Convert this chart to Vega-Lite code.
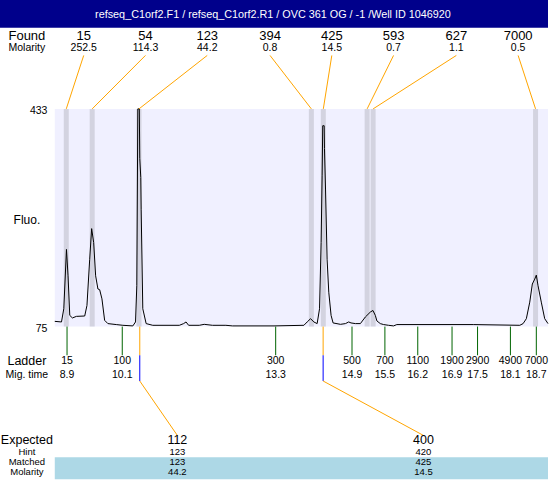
{
"$schema":"https://vega.github.io/schema/vega-lite/v6.json",
"width":550,"height":480,
"autosize":{"type":"fit","contains":"padding"},
"padding":0,
"background":"white",
"config":{"view":{"stroke":null},"font":"Liberation Sans","axis":{"disable":true}},
"datasets":{
"peaks":[
{"size":"15","mol":"252.5","t":8.884,"tl":9.248},
{"size":"54","mol":"114.3","t":9.425,"tl":10.538},
{"size":"123","mol":"44.2","t":10.403,"tl":11.828},
{"size":"394","mol":"0.8","t":14.002,"tl":13.139},
{"size":"425","mol":"14.5","t":14.252,"tl":14.429},
{"size":"593","mol":"0.7","t":15.167,"tl":15.719},
{"size":"627","mol":"1.1","t":15.292,"tl":17.030},
{"size":"7000","mol":"0.5","t":18.684,"tl":18.320}
],
"ladder":[
{"bp":"15","mt":"8.9","t":8.900},
{"bp":"100","mt":"10.1","t":10.053},
{"bp":"300","mt":"13.3","t":13.257},
{"bp":"500","mt":"14.9","t":14.851},
{"bp":"700","mt":"15.5","t":15.538},
{"bp":"1100","mt":"16.2","t":16.224},
{"bp":"1900","mt":"16.9","t":16.940},
{"bp":"2900","mt":"17.5","t":17.473},
{"bp":"4900","mt":"18.1","t":18.159},
{"bp":"7000","mt":"18.7","t":18.700}
],
"expected":[
{"exp":"112","hint":"123","matched":"123","mol":"44.2","t":10.419,"tl":11.204},
{"exp":"400","hint":"420","matched":"425","mol":"14.5","t":14.248,"tl":16.343}
],
"trace":[
{"t":8.644,"f":83.6},{"t":8.784,"f":82.6},{"t":8.832,"f":104.3},{"t":8.888,"f":201.9},{"t":8.921,"f":158.5},
{"t":8.957,"f":93.4},{"t":9.013,"f":89.2},{"t":9.096,"f":91.8},{"t":9.269,"f":92.4},{"t":9.316,"f":109.7},
{"t":9.373,"f":185.7},{"t":9.414,"f":236.1},{"t":9.456,"f":213.3},{"t":9.497,"f":158.5},{"t":9.545,"f":136.8},
{"t":9.581,"f":135.7},{"t":9.629,"f":120.6},{"t":9.685,"f":85.3},{"t":9.753,"f":79.9},{"t":9.928,"f":78.3},
{"t":10.066,"f":77.1},{"t":10.274,"f":76.1},{"t":10.330,"f":82.6},{"t":10.357,"f":142.2},{"t":10.378,"f":433},
{"t":10.409,"f":433},{"t":10.419,"f":351.6},{"t":10.440,"f":320},{"t":10.448,"f":267},{"t":10.482,"f":104.3},
{"t":10.552,"f":79.9},{"t":10.690,"f":77.1},{"t":11.245,"f":77.1},{"t":11.335,"f":79.9},{"t":11.385,"f":82.6},
{"t":11.439,"f":77.1},{"t":11.661,"f":77.1},{"t":11.765,"f":78.7},{"t":11.938,"f":77.1},{"t":12.217,"f":77.1},
{"t":12.354,"f":76.1},{"t":13.222,"f":76.1},{"t":13.846,"f":77.1},{"t":13.915,"f":82.6},{"t":13.986,"f":88.0},
{"t":14.054,"f":82.6},{"t":14.123,"f":79.9},{"t":14.173,"f":104.3},{"t":14.206,"f":213.3},{"t":14.227,"f":324.0},
{"t":14.240,"f":405.3},{"t":14.270,"f":405.3},{"t":14.276,"f":367.9},{"t":14.298,"f":301.2},{"t":14.331,"f":185.7},
{"t":14.366,"f":131.5},{"t":14.414,"f":93.4},{"t":14.456,"f":81.0},{"t":14.610,"f":78.7},{"t":14.714,"f":79.9},
{"t":14.782,"f":82.6},{"t":14.830,"f":81.0},{"t":14.922,"f":79.9},{"t":15.026,"f":79.9},{"t":15.130,"f":90.8},
{"t":15.234,"f":98.9},{"t":15.288,"f":101.5},{"t":15.338,"f":93.4},{"t":15.371,"f":84.3},{"t":15.442,"f":79.9},
{"t":15.511,"f":78.3},{"t":15.615,"f":77.1},{"t":15.719,"f":76.1},{"t":15.787,"f":78.3},{"t":17.383,"f":78.3},
{"t":18.355,"f":77.1},{"t":18.424,"f":79.9},{"t":18.492,"f":88.0},{"t":18.563,"f":115.2},{"t":18.617,"f":145.0},
{"t":18.667,"f":153.1},{"t":18.700,"f":159.6},{"t":18.736,"f":142.2},{"t":18.804,"f":115.2},{"t":18.875,"f":88.0},
{"t":18.944,"f":79.9}
]
},
"layer":[
{"data":{"values":[{"t":7.5,"t2":18.944}]},"mark":{"type":"rect","color":"#00008b"},
 "encoding":{"x":{"field":"t","type":"quantitative","scale":{"domain":[7.5,18.944],"nice":false,"zero":false}},"x2":{"field":"t2"},
  "y":{"datum":566.44,"scale":{"domain":[-172.35,608.75],"nice":false,"zero":false}},"y2":{"datum":612}}},
{"data":{"values":[{"title":"refseq_C1orf2.F1 / refseq_C1orf2.R1 / OVC 361 OG / -1 /Well ID 1046920"}]},
 "mark":{"type":"text","color":"white","fontSize":10.8,"baseline":"middle"},
 "encoding":{"x":{"datum":13.2,"scale":{"domain":[7.5,18.944],"nice":false,"zero":false}},"y":{"datum":587.6,"scale":{"domain":[-172.35,608.75],"nice":false,"zero":false}},"text":{"field":"title"}}},
{"data":{"values":[{"t":8.644,"t2":18.944}]},"mark":{"type":"rect","color":"#f0f0ff"},
 "encoding":{"x":{"field":"t","type":"quantitative","scale":{"domain":[7.5,18.944],"nice":false,"zero":false}},"x2":{"field":"t2"},
  "y":{"datum":75,"scale":{"domain":[-172.35,608.75],"nice":false,"zero":false}},"y2":{"datum":433}}},
{"data":{"name":"peaks"},"mark":{"type":"rule","color":"#d3d3e0","strokeWidth":5},
 "encoding":{"x":{"field":"t","type":"quantitative","scale":{"domain":[7.5,18.944],"nice":false,"zero":false}},
  "y":{"datum":75,"scale":{"domain":[-172.35,608.75],"nice":false,"zero":false}},"y2":{"datum":433}}},
{"data":{"name":"trace"},"mark":{"type":"line","color":"black","strokeWidth":1},
 "encoding":{"x":{"field":"t","type":"quantitative","scale":{"domain":[7.5,18.944],"nice":false,"zero":false}},
  "y":{"field":"f","type":"quantitative","scale":{"domain":[-172.35,608.75],"nice":false,"zero":false}}}},
{"data":{"name":"peaks"},"mark":{"type":"rule","color":"orange","strokeWidth":1},
 "encoding":{"x":{"field":"tl","type":"quantitative","scale":{"domain":[7.5,18.944],"nice":false,"zero":false}},"x2":{"field":"t"},
  "y":{"datum":520.9,"scale":{"domain":[-172.35,608.75],"nice":false,"zero":false}},"y2":{"datum":433}}},
{"data":{"name":"peaks"},"mark":{"type":"text","fontSize":13,"baseline":"middle","color":"black"},
 "encoding":{"x":{"field":"tl","type":"quantitative","scale":{"domain":[7.5,18.944],"nice":false,"zero":false}},
  "y":{"datum":553.4,"scale":{"domain":[-172.35,608.75],"nice":false,"zero":false}},"text":{"field":"size"}}},
{"data":{"name":"peaks"},"mark":{"type":"text","fontSize":10.5,"baseline":"middle","color":"black"},
 "encoding":{"x":{"field":"tl","type":"quantitative","scale":{"domain":[7.5,18.944],"nice":false,"zero":false}},
  "y":{"datum":532.3,"scale":{"domain":[-172.35,608.75],"nice":false,"zero":false}},"text":{"field":"mol"}}},
{"data":{"values":[{"f":433},{"f":75}]},"mark":{"type":"text","fontSize":10.5,"baseline":"middle","align":"right","dy":2,"color":"black"},
 "encoding":{"x":{"datum":8.49,"scale":{"domain":[7.5,18.944],"nice":false,"zero":false}},
  "y":{"field":"f","type":"quantitative","scale":{"domain":[-172.35,608.75],"nice":false,"zero":false}},"text":{"field":"f"}}},
{"data":{"name":"ladder"},"mark":{"type":"rule","color":"#006400","strokeWidth":1},
 "encoding":{"x":{"field":"t","type":"quantitative","scale":{"domain":[7.5,18.944],"nice":false,"zero":false}},
  "y":{"datum":75,"scale":{"domain":[-172.35,608.75],"nice":false,"zero":false}},"y2":{"datum":27.81}}},
{"data":{"name":"ladder"},"mark":{"type":"text","fontSize":10.5,"baseline":"middle","color":"black"},
 "encoding":{"x":{"field":"t","type":"quantitative","scale":{"domain":[7.5,18.944],"nice":false,"zero":false}},
  "y":{"datum":18.05,"scale":{"domain":[-172.35,608.75],"nice":false,"zero":false}},"text":{"field":"bp"}}},
{"data":{"name":"ladder"},"mark":{"type":"text","fontSize":10.5,"baseline":"middle","color":"black"},
 "encoding":{"x":{"field":"t","type":"quantitative","scale":{"domain":[7.5,18.944],"nice":false,"zero":false}},
  "y":{"datum":-4.74,"scale":{"domain":[-172.35,608.75],"nice":false,"zero":false}},"text":{"field":"mt"}}},
{"data":{"name":"expected"},"mark":{"type":"rule","color":"orange","strokeWidth":1},
 "encoding":{"x":{"field":"t","type":"quantitative","scale":{"domain":[7.5,18.944],"nice":false,"zero":false}},
  "y":{"datum":75,"scale":{"domain":[-172.35,608.75],"nice":false,"zero":false}},"y2":{"datum":27.81}}},
{"data":{"name":"expected"},"mark":{"type":"rule","color":"blue","strokeWidth":1},
 "encoding":{"x":{"field":"t","type":"quantitative","scale":{"domain":[7.5,18.944],"nice":false,"zero":false}},
  "y":{"datum":27.81,"scale":{"domain":[-172.35,608.75],"nice":false,"zero":false}},"y2":{"datum":-14.5}}},
{"data":{"name":"expected"},"mark":{"type":"rule","color":"orange","strokeWidth":1},
 "encoding":{"x":{"field":"t","type":"quantitative","scale":{"domain":[7.5,18.944],"nice":false,"zero":false}},"x2":{"field":"tl"},
  "y":{"datum":-14.5,"scale":{"domain":[-172.35,608.75],"nice":false,"zero":false}},"y2":{"datum":-104}}},
{"data":{"values":[{"t":8.644,"t2":18.944}]},"mark":{"type":"rect","color":"#add8e6"},
 "encoding":{"x":{"field":"t","type":"quantitative","scale":{"domain":[7.5,18.944],"nice":false,"zero":false}},"x2":{"field":"t2"},
  "y":{"datum":-139.8,"scale":{"domain":[-172.35,608.75],"nice":false,"zero":false}},"y2":{"datum":-176}}},
{"data":{"name":"expected"},"mark":{"type":"text","fontSize":12.5,"baseline":"middle","color":"black"},
 "encoding":{"x":{"field":"tl","type":"quantitative","scale":{"domain":[7.5,18.944],"nice":false,"zero":false}},
  "y":{"datum":-112.14,"scale":{"domain":[-172.35,608.75],"nice":false,"zero":false}},"text":{"field":"exp"}}},
{"data":{"name":"expected"},"mark":{"type":"text","fontSize":9.5,"baseline":"middle","color":"black"},
 "encoding":{"x":{"field":"tl","type":"quantitative","scale":{"domain":[7.5,18.944],"nice":false,"zero":false}},
  "y":{"datum":-131.66,"scale":{"domain":[-172.35,608.75],"nice":false,"zero":false}},"text":{"field":"hint"}}},
{"data":{"name":"expected"},"mark":{"type":"text","fontSize":9.5,"baseline":"middle","color":"black"},
 "encoding":{"x":{"field":"tl","type":"quantitative","scale":{"domain":[7.5,18.944],"nice":false,"zero":false}},
  "y":{"datum":-147.94,"scale":{"domain":[-172.35,608.75],"nice":false,"zero":false}},"text":{"field":"matched"}}},
{"data":{"name":"expected"},"mark":{"type":"text","fontSize":9.5,"baseline":"middle","color":"black"},
 "encoding":{"x":{"field":"tl","type":"quantitative","scale":{"domain":[7.5,18.944],"nice":false,"zero":false}},
  "y":{"datum":-164.21,"scale":{"domain":[-172.35,608.75],"nice":false,"zero":false}},"text":{"field":"mol"}}},
{"data":{"values":[{"label":"Found"}]},"mark":{"type":"text","fontSize":13,"baseline":"middle","color":"black"},
 "encoding":{"x":{"datum":8.062,"scale":{"domain":[7.5,18.944],"nice":false,"zero":false}},"y":{"datum":553.4,"scale":{"domain":[-172.35,608.75],"nice":false,"zero":false}},"text":{"field":"label"}}},
{"data":{"values":[{"label":"Molarity"}]},"mark":{"type":"text","fontSize":10.5,"baseline":"middle","color":"black"},
 "encoding":{"x":{"datum":8.062,"scale":{"domain":[7.5,18.944],"nice":false,"zero":false}},"y":{"datum":532.3,"scale":{"domain":[-172.35,608.75],"nice":false,"zero":false}},"text":{"field":"label"}}},
{"data":{"values":[{"label":"Fluo."}]},"mark":{"type":"text","fontSize":12,"baseline":"middle","color":"black"},
 "encoding":{"x":{"datum":8.062,"scale":{"domain":[7.5,18.944],"nice":false,"zero":false}},"y":{"datum":250.7,"scale":{"domain":[-172.35,608.75],"nice":false,"zero":false}},"text":{"field":"label"}}},
{"data":{"values":[{"label":"Ladder"}]},"mark":{"type":"text","fontSize":12.5,"baseline":"middle","color":"black"},
 "encoding":{"x":{"datum":8.062,"scale":{"domain":[7.5,18.944],"nice":false,"zero":false}},"y":{"datum":18.05,"scale":{"domain":[-172.35,608.75],"nice":false,"zero":false}},"text":{"field":"label"}}},
{"data":{"values":[{"label":"Mig. time"}]},"mark":{"type":"text","fontSize":10.5,"baseline":"middle","color":"black"},
 "encoding":{"x":{"datum":8.062,"scale":{"domain":[7.5,18.944],"nice":false,"zero":false}},"y":{"datum":-4.74,"scale":{"domain":[-172.35,608.75],"nice":false,"zero":false}},"text":{"field":"label"}}},
{"data":{"values":[{"label":"Expected"}]},"mark":{"type":"text","fontSize":12.5,"baseline":"middle","color":"black"},
 "encoding":{"x":{"datum":8.062,"scale":{"domain":[7.5,18.944],"nice":false,"zero":false}},"y":{"datum":-112.14,"scale":{"domain":[-172.35,608.75],"nice":false,"zero":false}},"text":{"field":"label"}}},
{"data":{"values":[{"label":"Hint"}]},"mark":{"type":"text","fontSize":9.5,"baseline":"middle","color":"black"},
 "encoding":{"x":{"datum":8.062,"scale":{"domain":[7.5,18.944],"nice":false,"zero":false}},"y":{"datum":-131.66,"scale":{"domain":[-172.35,608.75],"nice":false,"zero":false}},"text":{"field":"label"}}},
{"data":{"values":[{"label":"Matched"}]},"mark":{"type":"text","fontSize":9.5,"baseline":"middle","color":"black"},
 "encoding":{"x":{"datum":8.062,"scale":{"domain":[7.5,18.944],"nice":false,"zero":false}},"y":{"datum":-147.94,"scale":{"domain":[-172.35,608.75],"nice":false,"zero":false}},"text":{"field":"label"}}},
{"data":{"values":[{"label":"Molarity"}]},"mark":{"type":"text","fontSize":9.5,"baseline":"middle","color":"black"},
 "encoding":{"x":{"datum":8.062,"scale":{"domain":[7.5,18.944],"nice":false,"zero":false}},"y":{"datum":-164.21,"scale":{"domain":[-172.35,608.75],"nice":false,"zero":false}},"text":{"field":"label"}}}
]
}
